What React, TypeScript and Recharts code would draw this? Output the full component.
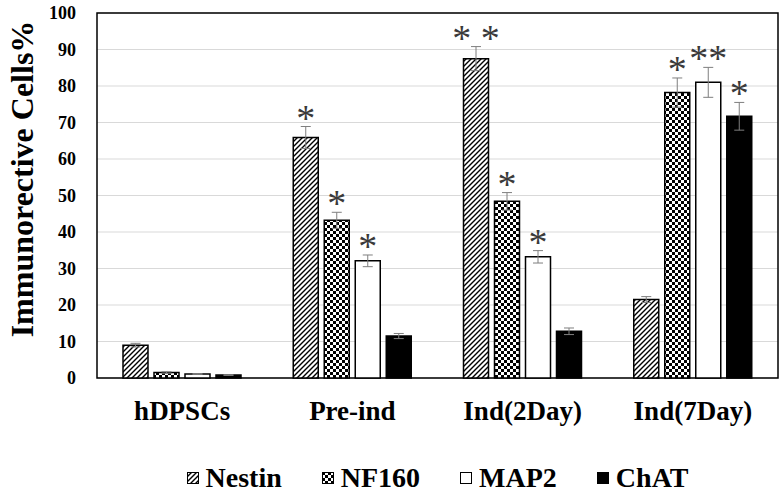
import React from 'react';
import {
  BarChart,
  Bar,
  XAxis,
  YAxis,
  CartesianGrid,
  ErrorBar,
  LabelList,
  Legend,
  Label,
  ReferenceArea,
} from 'recharts';

const categories = ['hDPSCs', 'Pre-ind', 'Ind(2Day)', 'Ind(7Day)'];
const yTicks = [0, 10, 20, 30, 40, 50, 60, 70, 80, 90, 100];

const nestin = [9, 65.9, 87.5, 21.5];
const nf160 = [1.5, 43.2, 48.4, 78.2];
const map2 = [1.1, 32.1, 33.2, 81];
const chat = [0.8, 11.5, 12.8, 71.7];

const nestinErr = [0.5, 3, 3.3, 0.8];
const nf160Err = [0.2, 2.2, 2.4, 4];
const map2Err = [0.1, 1.6, 1.7, 4.1];
const chatErr = [0.1, 0.7, 0.9, 3.8];

// significance marks drawn above the error bars
const nestinStars = ['', '*', '* *', ''];
const nf160Stars = ['', '*', '*', '*'];
const map2Stars = ['', '*', '*', '**'];
const chatStars = ['', '', '', '*'];

const data = categories.map((name, i) => ({
  name,
  Nestin: nestin[i],
  NF160: nf160[i],
  MAP2: map2[i],
  ChAT: chat[i],
  NestinErr: nestinErr[i],
  NF160Err: nf160Err[i],
  MAP2Err: map2Err[i],
  ChATErr: chatErr[i],
}));

const FONT = '"Liberation Serif", "Times New Roman", serif';

const series = [
  { key: 'Nestin', fill: 'url(#hatch)', errKey: 'NestinErr', errs: nestinErr, stars: nestinStars },
  { key: 'NF160', fill: 'url(#checker)', errKey: 'NF160Err', errs: nf160Err, stars: nf160Stars },
  { key: 'MAP2', fill: '#ffffff', errKey: 'MAP2Err', errs: map2Err, stars: map2Stars },
  { key: 'ChAT', fill: '#000000', errKey: 'ChATErr', errs: chatErr, stars: chatStars },
];

const Patterns = () => (
  <defs>
    <pattern id="hatch" patternUnits="userSpaceOnUse" width="5" height="5">
      <rect width="5" height="5" fill="#fff" />
      <path d="M0,5 L5,0 M-1,1 L1,-1 M4,6 L6,4" stroke="#000" strokeWidth="1.4" />
    </pattern>
    <pattern id="checker" patternUnits="userSpaceOnUse" width="6" height="6">
      <rect width="6" height="6" fill="#fff" />
      <rect width="3" height="3" fill="#000" />
      <rect x="3" y="3" width="3" height="3" fill="#000" />
    </pattern>
  </defs>
);

const starLabel = (stars: string[], errs: number[]) => (props: any) => {
  const { x, y, width, height, value, index } = props;
  const s = stars[index];
  if (!s) return null;
  const perUnit = value ? height / value : 0;
  const top = y - errs[index] * perUnit;
  return (
    <text
      x={x + width / 2}
      y={top + 4}
      textAnchor="middle"
      fontFamily={FONT}
      fontSize={38}
      fill="#3a3a3a"
      style={{ whiteSpace: 'pre' }}
      xmlSpace="preserve"
    >
      {s}
    </text>
  );
};

const XTick = (props: any) => {
  const { x, y, payload } = props;
  return (
    <text x={x} y={y + 42} textAnchor="middle" fontFamily={FONT} fontWeight="bold" fontSize={27} fill="#000">
      {payload.value}
    </text>
  );
};

const YTick = (props: any) => {
  const { x, y, payload } = props;
  return (
    <text x={x - 21} y={y + 6} textAnchor="end" fontFamily={FONT} fontWeight="bold" fontSize={18} fill="#000">
      {payload.value}
    </text>
  );
};

const YTitle = () => (
  <text
    transform="translate(33,179) rotate(-90)"
    textAnchor="middle"
    fontFamily={FONT}
    fontWeight="bold"
    fontSize={32}
    fill="#000"
  >
    Immunorective Cells%
  </text>
);

const LegendContent = () => (
  <div
    style={{
      display: 'flex',
      justifyContent: 'center',
      alignItems: 'center',
      height: 40,
      lineHeight: '40px',
      fontFamily: FONT,
      fontWeight: 'bold',
      fontSize: 28,
      gap: 40,
    }}
  >
    {series.map((s) => (
      <span key={s.key} style={{ display: 'flex', alignItems: 'center' }}>
        <svg width={12} height={12} style={{ marginRight: 7 }}>
          <rect x={0.5} y={0.5} width={11} height={11} fill={s.fill} stroke="#000" strokeWidth={1} />
        </svg>
        {s.key}
      </span>
    ))}
  </div>
);

export default function App() {
  return (
    <div style={{ position: 'absolute', left: 0, top: 0, width: 782, height: 495, background: '#fff' }}>
      <BarChart
        width={782}
        height={495}
        data={data}
        margin={{ top: 13, right: 4, left: 0, bottom: 0 }}
        barSize={25}
        barGap={6}
      >
        <Patterns />
        <CartesianGrid vertical={false} stroke="#d9d9d9" strokeWidth={1} />
        <XAxis
          dataKey="name"
          height={77}
          axisLine={false}
          tickLine={false}
          tickSize={0}
          tickMargin={0}
          tick={<XTick />}
          interval={0}
        />
        <YAxis
          width={97}
          domain={[0, 100]}
          ticks={yTicks}
          axisLine={false}
          tickLine={false}
          tickSize={0}
          tickMargin={0}
          tick={<YTick />}
          interval={0}
        >
          <Label content={<YTitle />} />
        </YAxis>
        <ReferenceArea y1={0} y2={100} fill="none" stroke="#000" strokeWidth={1.5} />
        {series.map((s) => (
          <Bar key={s.key} dataKey={s.key} fill={s.fill} stroke="#000" strokeWidth={1.5} isAnimationActive={false}>
            <ErrorBar dataKey={s.errKey} width={5} stroke="#7f7f7f" strokeWidth={1} direction="y" />
            <LabelList dataKey={s.key} content={starLabel(s.stars, s.errs)} />
          </Bar>
        ))}
        <Legend
          verticalAlign="bottom"
          height={40}
          content={<LegendContent />}
          wrapperStyle={{ left: 97, width: 681, top: 458 }}
        />
      </BarChart>
    </div>
  );
}
